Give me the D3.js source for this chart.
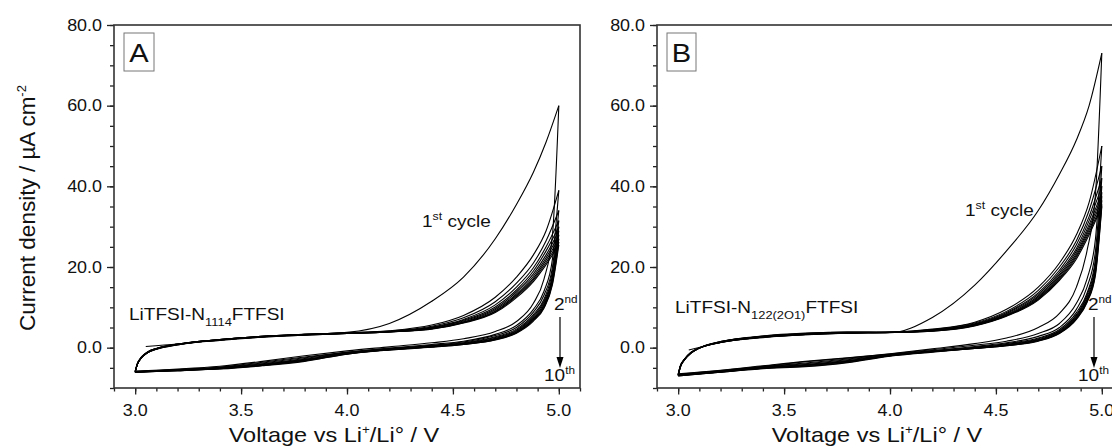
<!DOCTYPE html>
<html>
<head>
<meta charset="utf-8">
<script src="https://cdn.jsdelivr.net/npm/d3@7"></script>
<style>
  body { margin: 0; background: #fff; }
  svg { display: block; }
</style>
</head>
<body>
<div id="chart"></div>
<script>
// voltage grids (V vs Li+/Li)
const voltFirst = [3.05, 3.2, 3.4, 3.6, 3.8, 4.0, 4.2, 4.4, 4.55, 4.7, 4.8, 4.88, 4.94, 5.0];
const voltFwd = [3.0, 3.01, 3.03, 3.06, 3.1, 3.2, 3.4, 3.6, 3.8, 4.0, 4.2, 4.4, 4.55, 4.7, 4.8, 4.88, 4.94, 5.0];
const voltRev = [5.0, 4.97, 4.93, 4.88, 4.8, 4.7, 4.55, 4.4, 4.2, 4.0, 3.8, 3.6, 3.4, 3.2, 3.0];

const xTicks = [3.0, 3.5, 4.0, 4.5, 5.0];
const yTicks = [0, 20, 40, 60, 80];

// panel A : LiTFSI-N1114FTFSI, current density in uA cm-2
const curAFirst = [0.3, 0.9, 2.0, 2.8, 3.3, 3.8, 6.0, 11.5, 17.5, 27, 35.5, 43.5, 51, 60];
const curAFwd = [
  [-5.8, -4.0, -2.3, -1.0, -0.2, 0.9, 2.0, 2.8, 3.3, 3.7, 4.2, 5.6, 8.0, 12.5, 17.5, 23, 29, 39],
  [-5.9, -4.0, -2.3, -1.0, -0.2, 0.9, 2.0, 2.8, 3.3, 3.7, 4.1, 5.3, 7.4, 11.4, 16, 21, 26.5, 34],
  [-5.9, -4.1, -2.4, -1.1, -0.2, 0.9, 2.0, 2.8, 3.3, 3.6, 4.0, 5.1, 7.0, 10.6, 15, 19.8, 25, 31.5],
  [-6.0, -4.1, -2.4, -1.1, -0.3, 0.8, 2.0, 2.7, 3.2, 3.6, 4.0, 5.0, 6.8, 10.1, 14.3, 19, 24, 30],
  [-6.0, -4.1, -2.4, -1.1, -0.3, 0.8, 1.9, 2.7, 3.2, 3.6, 4.0, 4.9, 6.6, 9.7, 13.8, 18.3, 23, 29],
  [-6.0, -4.2, -2.5, -1.2, -0.3, 0.8, 1.9, 2.7, 3.2, 3.5, 3.9, 4.8, 6.4, 9.4, 13.3, 17.7, 22.3, 28],
  [-6.1, -4.2, -2.5, -1.2, -0.3, 0.8, 1.9, 2.7, 3.2, 3.5, 3.9, 4.7, 6.3, 9.1, 13, 17.2, 21.7, 27],
  [-6.1, -4.2, -2.5, -1.2, -0.4, 0.7, 1.9, 2.6, 3.1, 3.5, 3.9, 4.7, 6.2, 8.9, 12.7, 16.8, 21.1, 26.2],
  [-6.1, -4.2, -2.5, -1.2, -0.4, 0.7, 1.8, 2.6, 3.1, 3.5, 3.9, 4.6, 6.1, 8.7, 12.4, 16.4, 20.6, 25.5]
];
const curARev = [
  [60, 28, 17, 11, 6.5, 4.0, 2.2, 1.2, 0.2, -0.8, -2.0, -3.4, -4.6, -5.3, -5.8],
  [39, 22, 14, 9.5, 5.5, 3.3, 1.6, 0.8, -0.1, -1.1, -2.3, -3.6, -4.8, -5.4, -5.9],
  [34, 20, 13, 8.8, 5.0, 3.0, 1.4, 0.6, -0.2, -1.2, -2.5, -3.8, -4.9, -5.5, -5.9],
  [31.5, 19, 12, 8.2, 4.6, 2.7, 1.2, 0.5, -0.3, -1.3, -2.7, -4.0, -5.0, -5.5, -6.0],
  [30, 18, 11.5, 7.8, 4.3, 2.5, 1.1, 0.4, -0.4, -1.4, -2.9, -4.1, -5.0, -5.6, -6.0],
  [29, 17.5, 11, 7.5, 4.1, 2.3, 1.0, 0.3, -0.4, -1.4, -3.0, -4.2, -5.1, -5.6, -6.0],
  [28, 17, 10.6, 7.2, 3.9, 2.2, 0.9, 0.3, -0.5, -1.5, -3.1, -4.3, -5.1, -5.6, -6.1],
  [27, 16.5, 10.3, 7.0, 3.8, 2.1, 0.9, 0.2, -0.5, -1.5, -3.2, -4.4, -5.2, -5.7, -6.1],
  [26.2, 16, 10, 6.8, 3.7, 2.0, 0.8, 0.2, -0.5, -1.6, -3.3, -4.4, -5.2, -5.7, -6.1],
  [25.5, 15.6, 9.8, 6.6, 3.6, 1.9, 0.8, 0.1, -0.6, -1.6, -3.4, -4.5, -5.3, -5.7, -6.1]
];

// panel B : LiTFSI-N122(2O1)FTFSI
const curBFirst = [-0.6, 1.3, 2.6, 3.2, 3.6, 3.7, 7.5, 15.5, 24, 34, 43, 51.5, 60, 73];
const curBFwd = [
  [-6.5, -4.5, -2.8, -1.2, -0.1, 1.3, 2.5, 3.2, 3.6, 3.8, 4.6, 6.3, 9.5, 15, 21, 28, 36, 50],
  [-6.6, -4.6, -2.8, -1.2, -0.1, 1.3, 2.6, 3.3, 3.6, 3.8, 4.5, 6.1, 9.0, 14.2, 20, 26.5, 34, 45],
  [-6.7, -4.6, -2.9, -1.2, -0.1, 1.3, 2.6, 3.3, 3.7, 3.8, 4.4, 5.9, 8.7, 13.6, 19.2, 25.5, 32.5, 42],
  [-6.8, -4.7, -2.9, -1.3, -0.1, 1.4, 2.7, 3.4, 3.7, 3.8, 4.3, 5.8, 8.5, 13.2, 18.6, 24.6, 31.5, 40],
  [-6.8, -4.7, -2.9, -1.3, -0.1, 1.4, 2.7, 3.4, 3.7, 3.8, 4.3, 5.7, 8.3, 12.8, 18.1, 24, 30.5, 38.5],
  [-6.9, -4.8, -3.0, -1.3, -0.1, 1.4, 2.8, 3.5, 3.8, 3.8, 4.2, 5.6, 8.1, 12.5, 17.7, 23.4, 29.8, 37.5],
  [-6.9, -4.8, -3.0, -1.3, -0.1, 1.5, 2.8, 3.5, 3.8, 3.8, 4.2, 5.5, 8.0, 12.2, 17.3, 22.9, 29.2, 36.5],
  [-6.9, -4.8, -3.0, -1.4, -0.1, 1.5, 2.8, 3.5, 3.8, 3.8, 4.1, 5.5, 7.9, 12.0, 17, 22.5, 28.6, 35.5],
  [-7.0, -4.9, -3.0, -1.4, -0.1, 1.5, 2.9, 3.6, 3.9, 3.8, 4.1, 5.4, 7.8, 11.8, 16.7, 22, 28, 35]
];
const curBRev = [
  [73, 38, 24, 15, 8.5, 5.0, 2.4, 1.0, -0.3, -1.5, -2.5, -3.4, -4.5, -5.6, -6.5],
  [50, 27, 17, 11, 6.0, 3.5, 1.6, 0.6, -0.5, -1.6, -2.6, -3.5, -4.6, -5.7, -6.6],
  [45, 24, 15, 9.5, 5.0, 2.8, 1.2, 0.3, -0.7, -1.7, -2.8, -3.8, -4.7, -5.8, -6.7],
  [42, 22, 13.5, 8.7, 4.5, 2.4, 1.0, 0.1, -0.8, -1.8, -3.0, -4.0, -4.8, -5.9, -6.8],
  [40, 21, 13, 8.2, 4.2, 2.2, 0.8, 0.0, -0.9, -1.9, -3.2, -4.2, -4.9, -5.9, -6.8],
  [38.5, 20, 12.5, 7.9, 4.0, 2.0, 0.7, -0.1, -0.9, -1.9, -3.3, -4.3, -5.0, -6.0, -6.9],
  [37.5, 19.5, 12, 7.6, 3.8, 1.9, 0.6, -0.1, -1.0, -2.0, -3.4, -4.4, -5.0, -6.0, -6.9],
  [36.5, 19, 11.7, 7.4, 3.7, 1.8, 0.6, -0.2, -1.0, -2.0, -3.5, -4.5, -5.1, -6.0, -6.9],
  [35.5, 18.5, 11.4, 7.2, 3.6, 1.7, 0.5, -0.2, -1.0, -2.0, -3.6, -4.6, -5.1, -6.1, -7.0],
  [35, 18, 11.2, 7.0, 3.5, 1.6, 0.5, -0.2, -1.1, -2.1, -3.7, -4.7, -5.2, -6.1, -7.0]
];

const width = 1112;
const height = 446;
const SX = 1.12; // the source figure is a bit wider than tall
const FONT = "'Liberation Sans', Arial, Helvetica, sans-serif";

const svg = d3.select("#chart").append("svg")
    .attr("width", width)
    .attr("height", height)
    .style("font-family", FONT);

const y = d3.scaleLinear().domain([-10, 80]).range([388, 25]);

function stext(g, x0, y0, size, anchor) {
    return g.append("text")
        .attr("transform", `translate(${x0},${y0}) scale(${SX},1)`)
        .attr("font-size", size)
        .attr("text-anchor", anchor)
        .attr("fill", "#111");
}

const panels = [
    { name: "A", left: 114, first: curAFirst, fwd: curAFwd, rev: curARev,
      sub: "1114", labelPos: [129, 320], firstPos: [422, 227], arrowX: 560, textX: 554, boxW: 30 },
    { name: "B", left: 657, first: curBFirst, fwd: curBFwd, rev: curBRev,
      sub: "122(2O1)", labelPos: [675, 313], firstPos: [965, 216], arrowX: 1094, textX: 1088, boxW: 29 }
];

panels.forEach(p => drawPanel(p));

function drawPanel(p) {
    const x = d3.scaleLinear().domain([2.9, 5.1]).range([p.left, p.left + 466]);
    const g = svg.append("g");

    const line = d3.line()
        .x(d => x(d[0]))
        .y(d => y(d[1]))
        .curve(d3.curveMonotoneX);

    const branches = [];
    branches.push(voltFirst.map((v, i) => [v, p.first[i]]));
    p.fwd.forEach(c => branches.push(voltFwd.map((v, i) => [v, c[i]])));
    p.rev.forEach(c => branches.push(voltRev.map((v, i) => [v, c[i]]).reverse()));

    g.selectAll("path.cv")
        .data(branches)
        .enter()
        .append("path")
        .attr("class", "cv")
        .attr("d", line)
        .attr("fill", "none")
        .attr("stroke", "#000")
        .attr("stroke-width", 1.1);

    // ticks
    const xMinor = d3.range(29, 52).map(d => d / 10);
    const yMinor = d3.range(-10, 81, 5);

    g.append("g")
        .attr("transform", `translate(0, ${y(-10)})`)
        .call(d3.axisBottom(x).tickValues(xMinor).tickSize(3.5).tickFormat("").tickSizeOuter(0))
        .call(a => a.select(".domain").remove());
    g.append("g")
        .attr("transform", `translate(0, ${y(-10)})`)
        .call(d3.axisBottom(x).tickValues(xTicks).tickSize(6.5).tickFormat("").tickSizeOuter(0))
        .call(a => a.select(".domain").remove());
    g.append("g")
        .attr("transform", `translate(${p.left}, 0)`)
        .call(d3.axisLeft(y).tickValues(yMinor).tickSize(4).tickFormat("").tickSizeOuter(0))
        .call(a => a.select(".domain").remove());
    g.append("g")
        .attr("transform", `translate(${p.left}, 0)`)
        .call(d3.axisLeft(y).tickValues(yTicks).tickSize(7).tickFormat("").tickSizeOuter(0))
        .call(a => a.select(".domain").remove());
    g.selectAll(".tick line").attr("stroke", "#222").attr("stroke-width", 1.3);

    // frame
    g.append("rect")
        .attr("x", x(2.9))
        .attr("y", y(80))
        .attr("width", x(5.1) - x(2.9))
        .attr("height", y(-10) - y(80))
        .attr("fill", "none")
        .attr("stroke", "#333")
        .attr("stroke-width", 1.6);

    // tick labels
    xTicks.forEach(t => {
        stext(g, x(t), 416, 16, "middle").text(d3.format(".1f")(t));
    });
    yTicks.forEach(t => {
        stext(g, p.left - 12, y(t) + 5.8, 16, "end").text(d3.format(".1f")(t));
    });

    // axis title
    const xt = stext(g, (x(2.9) + x(5.1)) / 2 - 13, 442, 21, "middle");
    xt.append("tspan").text("Voltage vs Li");
    xt.append("tspan").attr("font-size", 12).attr("dy", -8).text("+");
    xt.append("tspan").attr("dy", 8).text("/Li\u00b0 / V");

    // panel letter box
    g.append("rect")
        .attr("x", p.left + 10)
        .attr("y", 33)
        .attr("width", p.boxW)
        .attr("height", 38)
        .attr("fill", "none")
        .attr("stroke", "#777")
        .attr("stroke-width", 1);
    stext(g, p.left + 10 + p.boxW / 2, 62, 26, "middle").text(p.name);

    // electrolyte label
    const lt = stext(g, p.labelPos[0], p.labelPos[1], 17, "start");
    lt.append("tspan").text("LiTFSI-N");
    lt.append("tspan").attr("font-size", 11.5).attr("dy", 6).text(p.sub);
    lt.append("tspan").attr("dy", -6).text("FTFSI");

    // 1st cycle
    const ft = stext(g, p.firstPos[0], p.firstPos[1], 17, "start");
    ft.append("tspan").text("1");
    ft.append("tspan").attr("font-size", 11).attr("dy", -7).text("st");
    ft.append("tspan").attr("dy", 7).text(" cycle");

    // 2nd -> 10th arrow
    const ax = p.arrowX;
    const st = stext(g, p.textX, 310, 17, "start");
    st.append("tspan").text("2");
    st.append("tspan").attr("font-size", 10.5).attr("dy", -7).text("nd");
    g.append("line")
        .attr("x1", ax).attr("x2", ax)
        .attr("y1", 317).attr("y2", 360)
        .attr("stroke", "#000").attr("stroke-width", 1.2);
    g.append("path")
        .attr("d", `M${ax - 3.5},357 L${ax + 3.5},357 L${ax},368 Z`)
        .attr("fill", "#000");
    const tt = stext(g, ax - 16, 381, 17, "start");
    tt.append("tspan").text("10");
    tt.append("tspan").attr("font-size", 10.5).attr("dy", -7).text("th");
}

// y axis title (only on the left panel)
const yt = svg.append("text")
    .attr("transform", `translate(35, 208) rotate(-90)`)
    .attr("text-anchor", "middle")
    .attr("font-size", 22.5)
    .attr("fill", "#111");
yt.append("tspan").text("Current density / \u00b5A cm");
yt.append("tspan").attr("font-size", 13).attr("dy", -9).text("-2");
</script>
</body>
</html>
